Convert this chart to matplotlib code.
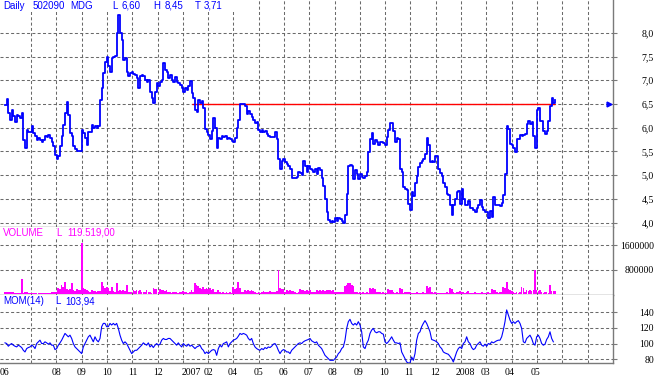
import numpy as np
import matplotlib
matplotlib.use("Agg")
import matplotlib.pyplot as plt
from matplotlib.patches import Rectangle

W, H = 659, 381

# ---------------- data (one sample per ~1.4 trading days) ----------------
price = [
    6.48, 6.60, 6.31, 6.17, 6.38, 6.24, 6.13, 6.27, 6.24, 6.20,
    6.31, 5.75, 5.57, 5.96, 5.92, 5.92, 6.04, 5.89, 5.82, 5.75,
    5.78, 5.75, 5.71, 5.75, 5.82, 5.80, 5.85, 5.78, 5.71, 5.61,
    5.43, 5.34, 5.40, 5.61, 5.82, 6.06, 6.31, 6.55, 6.27, 5.89,
    5.82, 5.61, 5.55, 5.50, 5.50, 5.52, 5.96, 5.89, 5.78, 5.64,
    5.92, 5.92, 6.06, 5.99, 6.03, 5.99, 6.03, 6.59, 6.83, 7.15,
    7.39, 7.50, 7.29, 7.18, 7.46, 7.48, 7.51, 7.99, 8.37, 8.00,
    7.85, 7.43, 7.46, 7.18, 7.09, 7.15, 7.18, 7.13, 7.11, 7.04,
    6.83, 7.09, 7.11, 7.08, 7.01, 6.97, 7.01, 6.76, 6.62, 6.52,
    6.76, 6.94, 6.87, 6.97, 7.01, 7.36, 7.22, 7.18, 7.04, 7.11,
    7.01, 6.97, 7.06, 6.97, 6.94, 6.90, 6.83, 6.76, 6.83, 6.80,
    6.87, 6.99, 6.73, 6.62, 6.38, 6.34, 6.59, 6.52, 6.56, 6.42,
    5.97, 5.90, 5.84, 5.77, 5.93, 6.21, 6.00, 5.58, 5.79, 5.77,
    5.83, 5.81, 5.83, 5.77, 5.79, 5.76, 5.72, 5.70, 5.79, 6.00,
    6.17, 6.51, 6.51, 6.49, 6.45, 6.28, 6.35, 6.28, 6.23, 6.17,
    6.10, 6.12, 5.95, 5.91, 5.95, 5.91, 5.93, 5.86, 5.83, 5.81,
    5.81, 5.81, 5.90, 5.76, 5.34, 5.13, 5.31, 5.34, 5.27, 5.24,
    5.20, 5.13, 4.94, 4.94, 4.94, 4.96, 5.06, 5.05, 5.01, 5.31,
    5.20, 5.06, 5.19, 5.13, 5.10, 5.06, 5.13, 5.03, 5.15, 5.10,
    4.94, 4.78, 4.51, 4.23, 4.06, 4.02, 4.03, 4.02, 4.09, 4.03,
    4.09, 4.08, 4.03, 3.99, 4.16, 4.61, 5.20, 5.22, 5.20, 4.92,
    5.10, 5.03, 4.92, 5.03, 4.96, 4.94, 4.99, 5.06, 5.48, 5.76,
    5.88, 5.65, 5.74, 5.70, 5.63, 5.70, 5.70, 5.67, 5.63, 5.81,
    5.95, 6.10, 6.10, 5.93, 5.69, 5.79, 5.76, 5.13, 5.06, 4.75,
    4.72, 4.68, 4.40, 4.26, 4.65, 4.56, 4.84, 4.99, 5.17, 5.26,
    5.31, 5.34, 5.44, 5.79, 5.63, 5.27, 5.31, 5.28, 5.40, 5.41,
    5.13, 5.05, 4.99, 4.84, 4.75, 4.61, 4.58, 4.37, 4.16, 4.37,
    4.51, 4.65, 4.66, 4.40, 4.70, 4.51, 4.37, 4.37, 4.45, 4.30,
    4.30, 4.27, 4.23, 4.32, 4.38, 4.47, 4.33, 4.27, 4.23, 4.22,
    4.11, 4.25, 4.13, 4.55, 4.37, 4.37, 4.37, 4.36, 4.41, 4.58,
    5.03, 6.04, 5.97, 5.65, 5.63, 5.58, 5.48, 5.76, 5.77, 5.84,
    5.83, 5.84, 5.86, 6.07, 6.14, 6.07, 6.12, 5.83, 5.58, 6.38,
    6.42, 6.14, 6.14, 5.93, 5.86, 5.93, 6.14, 6.45, 6.62, 6.52, 6.58,
]

volume_k = [  # thousands
    80, 70, 80, 60, 80, 50, 40, 30, 40, 30,
    490, 40, 80, 70, 30, 40, 30, 40, 30, 30,
    40, 45, 30, 30, 40, 30, 40, 30, 50, 80,
    60, 80, 200, 150, 300, 220, 410, 150, 120, 160,
    355, 130, 100, 150, 120, 130, 1690, 190, 150, 120,
    100, 80, 120, 90, 100, 60, 90, 110, 410, 250,
    200, 240, 190, 90, 245, 100, 80, 355, 90, 120,
    100, 130, 110, 300, 70, 60, 80, 130, 100, 120,
    90, 130, 60, 50, 70, 130, 50, 60, 40, 190,
    150, 170, 80, 150, 120, 140, 100, 130, 60, 50,
    40, 70, 50, 60, 40, 80, 70, 90, 60, 80,
    40, 50, 130, 60, 355, 300, 250, 200, 180, 220,
    150, 200, 170, 210, 140, 180, 60, 50, 130, 50,
    40, 60, 40, 80, 40, 50, 40, 220, 180, 200,
    380, 200, 80, 60, 130, 110, 120, 90, 130, 100,
    50, 40, 60, 40, 50, 90, 70, 80, 60, 90,
    70, 80, 60, 90, 800, 190, 150, 170, 60, 130,
    100, 120, 90, 110, 50, 40, 60, 150, 120, 130,
    100, 140, 110, 130, 60, 50, 60, 140, 110, 120,
    90, 130, 100, 120, 140, 130, 110, 120, 80, 70,
    80, 60, 50, 60, 250, 300, 355, 355, 300, 250,
    80, 70, 40, 50, 40, 60, 40, 50, 40, 200,
    160, 190, 150, 80, 70, 80, 40, 50, 40, 40,
    150, 120, 140, 50, 40, 50, 40, 190, 160, 40,
    50, 80, 70, 80, 40, 30, 40, 50, 40, 30,
    40, 50, 40, 250, 200, 240, 50, 40, 50, 45,
    40, 45, 40, 30, 40, 50, 40, 190, 160, 50,
    40, 80, 70, 90, 60, 80, 40, 50, 110, 40,
    30, 40, 50, 40, 30, 40, 50, 40, 30, 40,
    50, 40, 150, 120, 140, 50, 40, 50, 60, 240,
    200, 410, 150, 130, 110, 50, 40, 60, 40, 50,
    240, 200, 60, 130, 110, 120, 100, 130, 780, 130,
    110, 120, 50, 40, 60, 50, 40, 300, 110, 90, 100,
]

mom = [
    101.0, 100.1, 96.7, 98.8, 100.1, 98.0, 96.7, 95.8, 98.0, 96.7,
    95.0, 91.5, 89.4, 93.7, 95.0, 95.8, 98.0, 96.7, 93.7, 100.1,
    102.3, 104.4, 100.1, 100.1, 102.3, 101.0, 99.3, 101.0, 98.0, 98.0,
    92.4, 93.7, 98.0, 101.0, 104.4, 108.7, 113.0, 110.8, 108.7, 110.8,
    106.6, 100.1, 95.8, 93.7, 91.5, 89.4, 87.3, 95.8, 100.1, 104.4,
    108.7, 110.8, 106.6, 102.3, 108.7, 104.4, 102.3, 106.6, 121.6, 125.8,
    125.8, 121.6, 121.6, 125.8, 123.7, 125.8, 123.7, 125.8, 119.4, 110.8,
    104.4, 100.1, 102.3, 100.1, 95.8, 91.5, 87.3, 89.4, 91.5, 91.5,
    93.7, 95.8, 98.0, 101.0, 99.3, 98.0, 101.0, 95.8, 98.0, 95.0,
    98.0, 100.1, 98.0, 99.3, 104.4, 106.6, 105.3, 105.3, 106.6, 106.6,
    104.4, 102.3, 100.1, 98.0, 101.0, 98.0, 95.8, 100.1, 98.0, 96.7,
    99.3, 96.7, 98.0, 95.8, 93.7, 95.8, 96.7, 98.0, 93.7, 91.5,
    87.3, 89.4, 87.3, 89.4, 91.5, 92.4, 91.5, 85.1, 93.7, 98.0,
    95.8, 100.1, 101.0, 102.3, 95.8, 100.1, 102.3, 104.4, 105.3, 106.6,
    109.5, 113.0, 111.7, 113.0, 112.1, 110.8, 106.6, 104.4, 106.6, 100.1,
    95.8, 93.7, 92.4, 91.5, 93.7, 92.4, 95.0, 93.7, 95.8, 95.0,
    96.7, 99.3, 100.1, 96.7, 91.5, 87.3, 90.7, 92.4, 91.5, 89.4,
    89.4, 87.3, 91.5, 93.7, 95.8, 98.0, 100.1, 101.0, 100.1, 102.3,
    103.6, 104.4, 105.3, 106.6, 103.6, 102.3, 101.0, 102.3, 98.0, 95.8,
    93.7, 89.4, 85.1, 83.0, 80.8,
    78.7, 78.7, 78.7, 80.8, 83.0, 87.3, 89.4, 93.7, 95.8, 104.4,
    119.4, 128.0, 131.0, 125.8, 123.7, 125.8, 123.7, 128.0, 123.7, 115.1,
    95.8, 93.7, 100.1, 104.4, 113.0, 117.3, 119.4, 115.1, 113.8, 115.1,
    115.1, 113.0, 112.1, 102.3, 100.1, 102.3, 105.3, 108.7, 104.4, 101.0,
    101.0, 100.1, 101.0, 89.4, 85.1, 80.8, 76.6, 75.3, 75.3, 83.0,
    78.7, 87.3, 104.4, 113.0, 115.1, 121.6, 125.8, 129.3, 125.8, 120.7,
    115.1, 105.3, 104.4, 103.6, 102.3, 100.1, 95.8, 93.7, 89.4, 88.1,
    87.3, 86.4, 83.8, 80.8, 76.6, 83.0, 89.4, 93.7, 95.8, 93.7,
    100.1, 102.3, 108.7, 102.3, 100.1, 95.0, 92.4, 93.7, 98.0, 100.1,
    102.3, 98.0, 96.7, 99.3, 96.7, 100.1, 99.3, 102.3, 101.0, 102.3,
    103.6, 104.4, 104.4, 108.7, 117.3, 128.0, 143.0, 136.6, 130.1, 125.8,
    128.0, 125.8, 128.0, 129.3, 125.8, 119.4, 102.3, 101.0, 106.6, 108.7,
    110.8, 106.6, 100.1, 98.0, 108.7, 110.8, 106.6, 100.1, 98.0, 99.3,
    105.3, 108.7, 115.1, 106.6, 102.3,
]

resistance = 6.5
price_ticks = [4.0, 4.5, 5.0, 5.5, 6.0, 6.5, 7.0, 7.5, 8.0]
price_ticklabels = ["4,0", "4,5", "5,0", "5,5", "6,0", "6,5", "7,0", "7,5", "8,0"]
vol_ticks = [800000, 1600000]
vol_ticklabels = ["800000", "1600000"]
mom_ticks = [80, 100, 120, 140]
mom_ticklabels = ["80", "100", "120", "140"]
month_labels = ["06", "07", "08", "09", "10", "11", "12", "2007", "02", "04", "05",
                "06", "07", "08", "09", "10", "11", "12", "2008", "03", "04", "05"]
month_label_pos = [2.7, 18.6, 33.7, 48.9, 64.0, 79.6, 94.8, 114.5, 124.8, 139.8, 154.8,
                   169.8, 185.4, 199.8, 215.4, 230.2, 245.4, 261.0, 279.0, 291.0, 306.0, 321.5]
grid_pos = [18.6 + 15.18 * i for i in range(23)]

# ---------------- figure ----------------
BLUE = "#0000ff"
MAG = "#ff00ff"
GRAY = "#7a7a7a"
GRIDC = "#6a6a6a"
XMAX = 613 * 0.6

fig = plt.figure(figsize=(W / 100, H / 100), dpi=100)


def px_axes(top, bottom):
    return fig.add_axes([0, 1 - bottom / H, 613 / W, (bottom - top) / H])


ax1 = px_axes(0, 227)
ax2 = px_axes(227, 295)
ax3 = px_axes(295, 363)

for ax in (ax1, ax2, ax3):
    ax.set_xlim(0, XMAX)
    ax.spines["top"].set_visible(False)
    ax.spines["left"].set_visible(False)
    for s in ("right", "bottom"):
        ax.spines[s].set_color(GRAY)
        ax.spines[s].set_linewidth(1.0)
    ax.yaxis.tick_right()
    ax.tick_params(axis="y", which="major", direction="out", length=3, width=0.8,
                   color=GRAY, labelsize=7, pad=26.5)
    ax.set_xticks(grid_pos)
    ax.set_xticks(month_label_pos, minor=True)
    ax.tick_params(axis="x", which="both", length=0, labelbottom=False)
    ax.grid(True, which="major", color=GRIDC, linestyle=(0, (2.9, 2.2)), linewidth=0.75)
    ax.grid(False, which="minor")
    ax.set_axisbelow(True)

# price
xp = np.arange(3, 3 + len(price))
ax1.plot(xp, price, drawstyle="steps-post", color=BLUE, lw=1.3, zorder=3)
ax1.hlines(resistance, 115, xp[-1], color="#ff0000", lw=1.0, zorder=2)
ax1.plot([365.5], [resistance], marker=">", ms=3.5, color=BLUE, clip_on=False, zorder=4)
ax1.set_ylim(3.91, 8.69)
ax1.set_yticks(price_ticks)
ax1.set_yticklabels(price_ticklabels, family="Liberation Serif", ha="right")

# volume
xv = np.arange(3, 3 + len(volume_k))
ax2.bar(xv, np.array(volume_k) * 1000.0, width=1.0, color=MAG, linewidth=0, zorder=3)
ax2.set_ylim(-33000, 2200000)
ax2.set_yticks(vol_ticks)
ax2.set_yticklabels(vol_ticklabels, family="Liberation Serif", ha="right")

# momentum
xm = np.arange(3, 3 + len(mom))
ax3.plot(xm, mom, color=BLUE, lw=0.8, zorder=3)
ax3.set_ylim(75.3, 162)
ax3.set_yticks(mom_ticks)
ax3.set_yticklabels(mom_ticklabels, family="Liberation Serif", ha="right")
ax3.set_xticklabels(month_labels, minor=True, family="Liberation Serif", fontsize=7)
ax3.tick_params(axis="x", which="minor", labelbottom=True, pad=3.5)


# white bands behind the panel headers (gridlines are hidden there)
def band(x0, y0, x1, y1):
    r = Rectangle((x0 / W, 1 - y1 / H), (x1 - x0) / W, (y1 - y0) / H,
                  transform=fig.transFigure, facecolor="white", edgecolor="none")
    r.set_zorder(5)
    fig.add_artist(r)


band(0, 0, 238, 12)
band(0, 229, 330, 239)
band(0, 296, 330, 306)


# header texts
def ftext(x, y, s, color):
    t = fig.text(x / W, 1 - y / H, s, color=color, fontsize=7, family="Liberation Sans",
                 ha="left", va="center")
    t.set_zorder(6)


ftext(3, 6, "Daily", BLUE)
ftext(33, 6, "502090", BLUE)
ftext(70, 6, "MDG", BLUE)
ftext(112, 6, "L", BLUE)
ftext(122, 6, "6,60", BLUE)
ftext(153, 6, "H", BLUE)
ftext(165, 6, "8,45", BLUE)
ftext(195, 6, "T", BLUE)
ftext(204, 6, "3,71", BLUE)

ftext(3, 233, "VOLUME", MAG)
ftext(56, 233, "L", MAG)
ftext(67, 233, "119.519,00", MAG)

ftext(3, 301, "MOM(14)", BLUE)
ftext(55, 301, "L", BLUE)
ftext(65, 301, "103,94", BLUE)

fig.savefig("out.png", dpi=100)
